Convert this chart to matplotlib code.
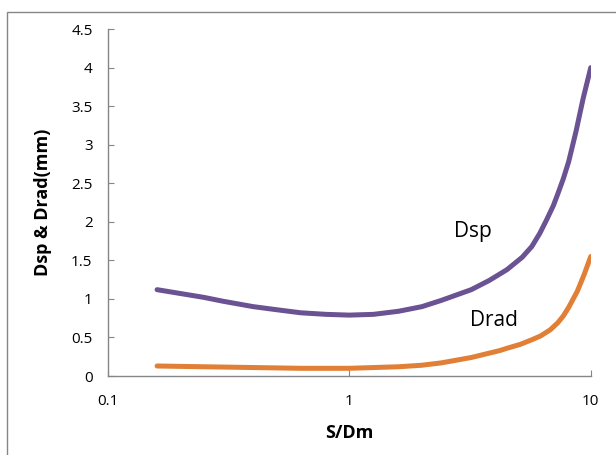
import numpy as np
import matplotlib.pyplot as plt
from matplotlib.patches import Rectangle

# valores
sdm_dsp = [0.16, 0.2, 0.25, 0.3, 0.4, 0.5, 0.63, 0.8, 1.0, 1.26, 1.6, 2.0, 2.4,
           3.2, 3.8, 4.5, 5.2, 5.7, 6.15, 6.55, 7.0, 7.3, 7.7, 8.1, 8.7, 9.3, 10.0]
dsp = [1.12, 1.07, 1.02, 0.97, 0.90, 0.86, 0.82, 0.80, 0.79, 0.80, 0.84, 0.90, 0.98,
       1.12, 1.24, 1.38, 1.54, 1.68, 1.85, 2.02, 2.21, 2.36, 2.56, 2.78, 3.18, 3.60, 4.0]

sdm_drad = [0.16, 0.25, 0.4, 0.63, 1.0, 1.6, 2.0, 2.4, 3.2, 4.2, 4.5, 5.1, 5.7, 6.2,
            6.8, 7.3, 7.7, 8.1, 8.8, 9.4, 10.0]
drad = [0.13, 0.12, 0.11, 0.10, 0.10, 0.12, 0.14, 0.17, 0.24, 0.33, 0.36, 0.41, 0.47, 0.52,
        0.60, 0.69, 0.78, 0.89, 1.10, 1.32, 1.55]

y_ticks = [0, 0.5, 1, 1.5, 2, 2.5, 3, 3.5, 4, 4.5]
x_ticks = [0.1, 1, 10]
x_labels = ["0.1", "1", "10"]

plt.rcParams['font.family'] = ['Open Sans', 'DejaVu Sans']

fig = plt.figure(figsize=(6.16, 4.55), dpi=100)
ax = fig.add_axes([0.175, 0.1736, 0.784, 0.7624])

roxo = '#6A5293'
laranja = '#E07F35'
ax.plot(sdm_dsp, dsp, color=roxo, lw=3.6, solid_capstyle='round', solid_joinstyle='round')
ax.plot(sdm_drad, drad, color=laranja, lw=3.6, solid_capstyle='round', solid_joinstyle='round')

ax.set_xscale('log')
ax.set_xlim(0.1, 10)
ax.set_ylim(0, 4.5)
ax.set_xticks(x_ticks)
ax.set_xticklabels(x_labels)
ax.xaxis.set_minor_locator(plt.NullLocator())
ax.set_yticks(y_ticks)
ax.set_yticklabels([f"{v:g}" for v in y_ticks])

for lado in ['top', 'right']:
    ax.spines[lado].set_visible(False)
for lado in ['left', 'bottom']:
    ax.spines[lado].set_color('#868686')
    ax.spines[lado].set_linewidth(1.0)
ax.tick_params(direction='in', length=4.5, color='#868686', labelsize=11)
ax.tick_params(axis='x', pad=13)
ax.tick_params(axis='y', pad=11)

ax.set_xlabel('S/Dm', fontsize=13, fontweight='bold', labelpad=11)
ax.set_ylabel('Dsp & Drad(mm)', fontsize=13, fontweight='bold', labelpad=14)

ax.text(3.24, 1.88, 'Dsp', fontsize=15, ha='center', va='center')
ax.text(3.96, 0.72, 'Drad', fontsize=15, ha='center', va='center')

# moldura externa do gráfico
fig.patches.append(Rectangle((0.011, -0.1), 1.2, 1.074, transform=fig.transFigure,
                             fill=False, edgecolor='#868686', lw=1.0, clip_on=False))

fig.savefig('out.png', dpi=100)
